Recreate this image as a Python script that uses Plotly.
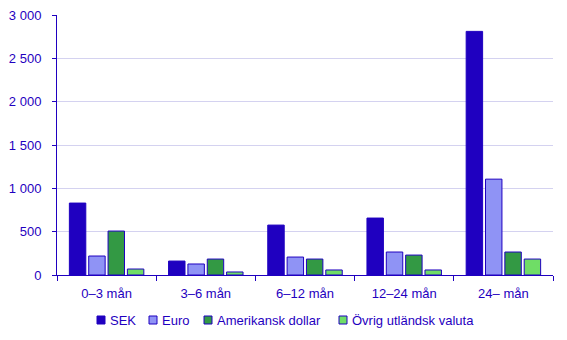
import plotly.graph_objects as go

categories = ["0–3 mån", "3–6 mån", "6–12 mån", "12–24 mån", "24– mån"]
sek = [830, 161, 576, 657, 2811]
euro = [219, 127, 207, 265, 1106]
usd = [507, 184, 184, 230, 265]
other = [69, 35, 58, 58, 184]
series_names = ["SEK", "Euro", "Amerikansk dollar", "Övrig utländsk valuta"]
colors = ["#1f00c0", "#8f93f5", "#339944", "#6fdd66"]
tick_vals = [0, 500, 1000, 1500, 2000, 2500, 3000]
tick_text = ["0", "500", "1 000", "1 500", "2 000", "2 500", "3 000"]

blue = "#1f00c0"
W, H = 567, 340
L, R, T, B = 57, 14, 15, 65
FONT = "Liberation Sans, Arial, sans-serif"

fig = go.Figure()
for name, vals, c in zip(series_names, [sek, euro, usd, other], colors):
    fig.add_trace(go.Bar(x=categories, y=vals, name=name, marker_color=c,
                         marker_line_color=blue, marker_line_width=1,
                         showlegend=False))

# manual compact legend (square + text) placed in container pixels
legend_x = [97, 149, 204, 339]
shapes, annotations = [], []
for name, c, px in zip(series_names, colors, legend_x):
    shapes.append(dict(type="rect", xref="paper", yref="paper",
                       x0=(px - L) / (W - L - R), x1=(px + 8 - L) / (W - L - R),
                       y0=(H - B - 324) / (H - T - B), y1=(H - B - 316) / (H - T - B),
                       fillcolor=c, line=dict(color=blue, width=1)))
    annotations.append(dict(text=name, xref="paper", yref="paper",
                            x=(px + 11 - L) / (W - L - R), y=(H - B - 320) / (H - T - B),
                            xanchor="left", yanchor="middle", showarrow=False,
                            font=dict(family=FONT, size=13, color=blue)))

fig.update_layout(
    width=W, height=H,
    margin=dict(l=L, r=R, t=T, b=B, autoexpand=False),
    paper_bgcolor="white", plot_bgcolor="white",
    font=dict(family=FONT, size=13, color=blue),
    barmode="group", bargap=0.22, bargroupgap=0.15,
    showlegend=False,
    shapes=shapes, annotations=annotations,
    xaxis=dict(showline=True, linecolor=blue, linewidth=1, ticks="outside",
               tickson="boundaries", tickcolor=blue, ticklen=5, showgrid=False,
               ticklabelstandoff=6,
               tickfont=dict(family=FONT, size=13, color=blue)),
    yaxis=dict(range=[0, 3000], tickvals=tick_vals, ticktext=tick_text,
               showline=True, linecolor=blue, linewidth=1, ticks="outside",
               tickcolor=blue, ticklen=4, gridcolor="#d4d2f0", gridwidth=1,
               ticklabelstandoff=8,
               zeroline=False, tickfont=dict(family=FONT, size=13, color=blue)),
)
fig.write_html("out.html")
